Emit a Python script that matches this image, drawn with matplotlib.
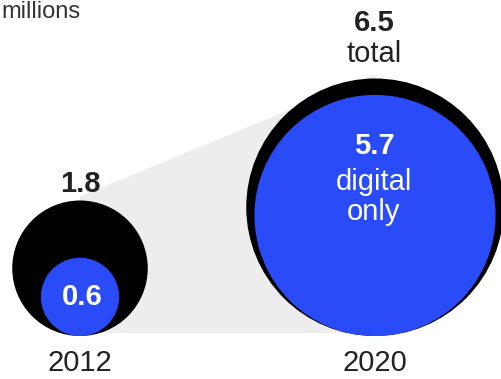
import numpy as np
import matplotlib.pyplot as plt
from matplotlib.patches import Circle, Polygon

plt.rcParams['font.family'] = ['Liberation Sans', 'DejaVu Sans']

# Subscribers in millions
years = ['2012', '2020']
totals = [1.8, 6.5]
digital = [0.6, 5.7]

# layout (pixel coordinates, y pointing down)
centers_x = [80, 375]
base_y = 336
scale = 50.5  # radius per sqrt(million)

fig = plt.figure(figsize=(5.01, 3.79), dpi=100)
ax = fig.add_axes([0, 0, 1, 1])
ax.set_xlim(0, 501)
ax.set_ylim(379, 0)
ax.set_aspect('equal')
ax.axis('off')

r_tot = [scale * np.sqrt(v) for v in totals]
r_dig = [scale * np.sqrt(v) for v in digital]

# grey band joining the two circles
band = Polygon([(centers_x[0], base_y - 2 * r_tot[0] - 4),
                (centers_x[1], base_y - 2 * r_tot[1] - 4),
                (centers_x[1], base_y - 3),
                (centers_x[0], base_y - 3)],
               closed=True, facecolor='#ededed', edgecolor='none', zorder=1)
ax.add_patch(band)

for cx, rt, rd in zip(centers_x, r_tot, r_dig):
    ax.add_patch(Circle((cx, base_y - rt), rt, facecolor='black', zorder=2))
    ax.add_patch(Circle((cx, base_y - rd), rd, facecolor='#2a4cf8', zorder=3))

dark = '#222222'
fs = 21

# 2012
ax.text(centers_x[0], 192, f'{totals[0]}', ha='center',
        va='baseline', fontsize=fs, fontweight='bold', color=dark, zorder=4)
ax.text(centers_x[0] + 2, base_y - r_dig[0], f'{digital[0]}', ha='center',
        va='center', fontsize=fs, fontweight='bold', color='white', zorder=4)

# 2020
ax.text(centers_x[1] - 1, 31, f'{totals[1]}', ha='center', va='baseline',
        fontsize=fs, fontweight='bold', color=dark)
ax.text(centers_x[1] - 1, 62, 'total', ha='center', va='baseline',
        fontsize=fs, color=dark)
ax.text(centers_x[1] - 1, 154, f'{digital[1]}', ha='center', va='baseline',
        fontsize=fs, fontweight='bold', color='white', zorder=4)
ax.text(centers_x[1] - 1, 190, 'digital', ha='center', va='baseline',
        fontsize=fs, color='white', zorder=4)
ax.text(centers_x[1] - 1, 220, 'only', ha='center', va='baseline',
        fontsize=fs, color='white', zorder=4)

# year labels
for cx, yr in zip(centers_x, years):
    ax.text(cx, 371, yr, ha='center', va='baseline', fontsize=fs, color=dark)

# unit label (top left)
ax.text(1, 1, 'millions', ha='left', va='top', fontsize=17, color='#333333')

fig.savefig('out.png', dpi=100, facecolor='white')
